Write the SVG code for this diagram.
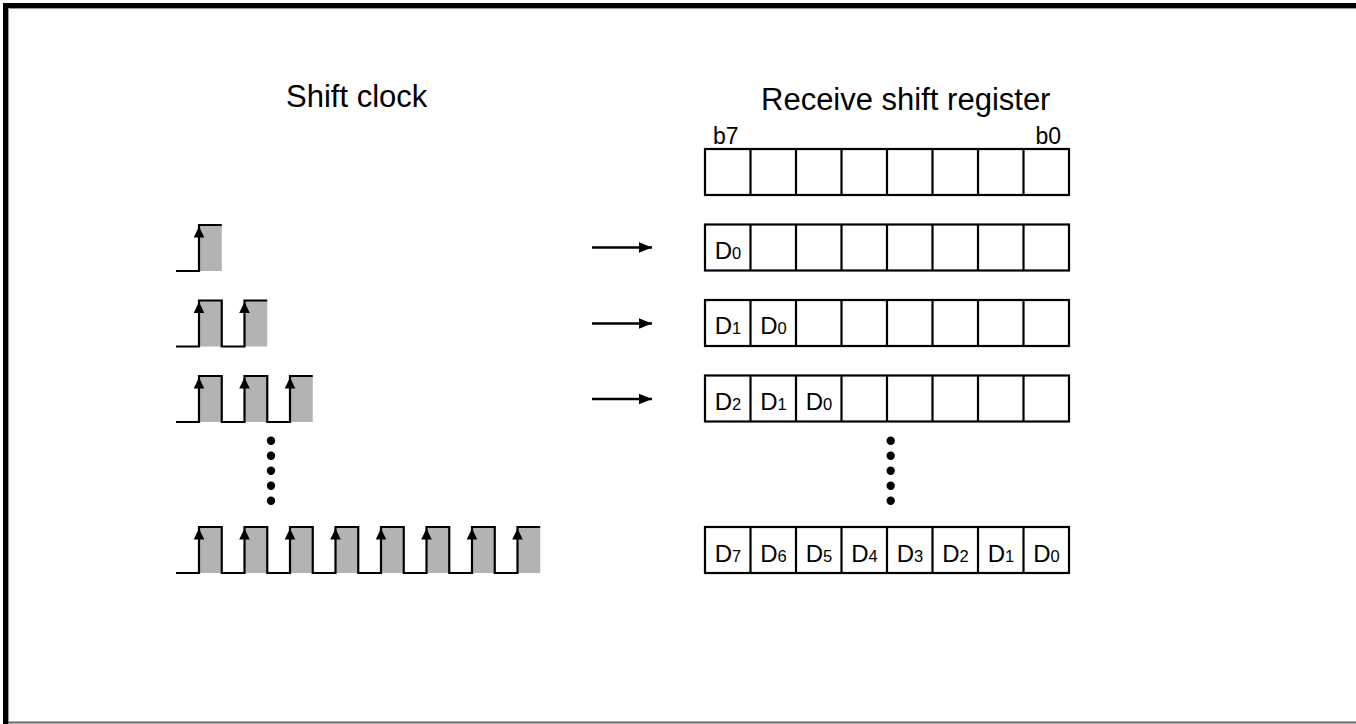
<svg xmlns="http://www.w3.org/2000/svg" xmlns:xlink="http://www.w3.org/1999/xlink" width="1356" height="724" viewBox="0 0 1356 724">
<style>
  .t { font-family: "Liberation Sans", Arial, sans-serif; fill: #000; }
  .title { font-size: 31px; }
  .bit { font-size: 23px; }
  .d { font-size: 24px; text-anchor: middle; }
  .sub { font-size: 16.5px; }
  .cell { fill: #fff; stroke: #000; stroke-width: 2.2; }
  .div { stroke: #000; stroke-width: 2.2; }
  .wave { fill: none; stroke: #000; stroke-width: 2.2; stroke-linejoin: miter; }
  .hi { fill: #b3b3b3; stroke: none; }
  .conn { stroke: #000; stroke-width: 2.4; fill: none; }
</style>
<defs>
  <path id="ah" d="M0,0 L-5.3,11 L5.3,11 Z" fill="#000"/>
  <marker id="arr" markerWidth="15" markerHeight="12" refX="13" refY="6" orient="auto" markerUnits="userSpaceOnUse">
    <path d="M0,0.8 L13,6 L0,11.2 Z" fill="#000"/>
  </marker>
  <g id="regrow">
    <rect class="cell" x="705" y="0" width="364" height="46"/>
    <path class="div" d="M750.5,0V46M796,0V46M841.5,0V46M887,0V46M932.5,0V46M978,0V46M1023.5,0V46"/>
  </g>
</defs>
<rect x="0" y="0" width="1356" height="724" fill="#fff"/>
<g id="frame">
  <path d="M5.5,724V5.5H1356" fill="none" stroke="#000" stroke-width="5"/>
  <path d="M8.5,724V8.5H1356" fill="none" stroke="#9a9a9a" stroke-width="1"/>
  <path d="M8,722.5H1356" fill="none" stroke="#666" stroke-width="2"/>
</g>
<g id="titles">
  <text class="t title" x="286" y="107">Shift clock</text>
  <text class="t title" x="761" y="110">Receive shift register</text>
</g>
<g id="bitlabels">
  <text class="t bit" x="713" y="144">b7</text>
  <text class="t bit" x="1061" y="144" text-anchor="end">b0</text>
</g>
<g id="reg0">
  <use xlink:href="#regrow" y="149"/>
</g>
<g id="reg1">
  <use xlink:href="#regrow" y="224.5"/>
  <text class="t d" x="728" y="258.5">D<tspan class="sub">0</tspan></text>
</g>
<g id="reg2">
  <use xlink:href="#regrow" y="300"/>
  <text class="t d" x="728" y="334">D<tspan class="sub">1</tspan></text>
  <text class="t d" x="773.5" y="334">D<tspan class="sub">0</tspan></text>
</g>
<g id="reg3">
  <use xlink:href="#regrow" y="375.5"/>
  <text class="t d" x="728" y="409.5">D<tspan class="sub">2</tspan></text>
  <text class="t d" x="773.5" y="409.5">D<tspan class="sub">1</tspan></text>
  <text class="t d" x="819" y="409.5">D<tspan class="sub">0</tspan></text>
</g>
<g id="reg8">
  <use xlink:href="#regrow" y="527"/>
  <text class="t d" x="728" y="561.5">D<tspan class="sub">7</tspan></text>
  <text class="t d" x="773.5" y="561.5">D<tspan class="sub">6</tspan></text>
  <text class="t d" x="819" y="561.5">D<tspan class="sub">5</tspan></text>
  <text class="t d" x="864.5" y="561.5">D<tspan class="sub">4</tspan></text>
  <text class="t d" x="910" y="561.5">D<tspan class="sub">3</tspan></text>
  <text class="t d" x="955.5" y="561.5">D<tspan class="sub">2</tspan></text>
  <text class="t d" x="1001" y="561.5">D<tspan class="sub">1</tspan></text>
  <text class="t d" x="1046.5" y="561.5">D<tspan class="sub">0</tspan></text>
</g>
<g id="clk1">
  <rect class="hi" x="199" y="225" width="22.75" height="46"/>
  <path class="wave" d="M176,271H199V225H221.75"/>
  <use xlink:href="#ah" x="199" y="226.5"/>
</g>
<g id="clk2">
  <rect class="hi" x="199" y="300.5" width="22.75" height="46"/>
  <rect class="hi" x="244.5" y="300.5" width="22.75" height="46"/>
  <path class="wave" d="M176,346.5H199V300.5H221.75V346.5H244.5V300.5H267.25"/>
  <use xlink:href="#ah" x="199" y="302"/>
  <use xlink:href="#ah" x="244.5" y="302"/>
</g>
<g id="clk3">
  <rect class="hi" x="199" y="376" width="22.75" height="46"/>
  <rect class="hi" x="244.5" y="376" width="22.75" height="46"/>
  <rect class="hi" x="290" y="376" width="22.75" height="46"/>
  <path class="wave" d="M176,422H199V376H221.75V422H244.5V376H267.25V422H290V376H312.75"/>
  <use xlink:href="#ah" x="199" y="377.5"/>
  <use xlink:href="#ah" x="244.5" y="377.5"/>
  <use xlink:href="#ah" x="290" y="377.5"/>
</g>
<g id="clk8">
  <rect class="hi" x="199" y="527" width="22.75" height="46"/>
  <rect class="hi" x="244.5" y="527" width="22.75" height="46"/>
  <rect class="hi" x="290" y="527" width="22.75" height="46"/>
  <rect class="hi" x="335.5" y="527" width="22.75" height="46"/>
  <rect class="hi" x="381" y="527" width="22.75" height="46"/>
  <rect class="hi" x="426.5" y="527" width="22.75" height="46"/>
  <rect class="hi" x="472" y="527" width="22.75" height="46"/>
  <rect class="hi" x="517.5" y="527" width="22.75" height="46"/>
  <path class="wave" d="M176,573H199V527H221.75V573H244.5V527H267.25V573H290V527H312.75V573H335.5V527H358.25V573H381V527H403.75V573H426.5V527H449.25V573H472V527H494.75V573H517.5V527H540.25"/>
  <use xlink:href="#ah" x="199" y="528.5"/>
  <use xlink:href="#ah" x="244.5" y="528.5"/>
  <use xlink:href="#ah" x="290" y="528.5"/>
  <use xlink:href="#ah" x="335.5" y="528.5"/>
  <use xlink:href="#ah" x="381" y="528.5"/>
  <use xlink:href="#ah" x="426.5" y="528.5"/>
  <use xlink:href="#ah" x="472" y="528.5"/>
  <use xlink:href="#ah" x="517.5" y="528.5"/>
</g>
<g id="ellipsis-left" fill="#000">
  <circle cx="271" cy="440.7" r="4.2"/>
  <circle cx="271" cy="455.7" r="4.2"/>
  <circle cx="271" cy="470.7" r="4.2"/>
  <circle cx="271" cy="485.7" r="4.2"/>
  <circle cx="271" cy="500.7" r="4.2"/>
</g>
<g id="ellipsis-right" fill="#000">
  <circle cx="890.7" cy="440.7" r="4.2"/>
  <circle cx="890.7" cy="455.7" r="4.2"/>
  <circle cx="890.7" cy="470.7" r="4.2"/>
  <circle cx="890.7" cy="485.7" r="4.2"/>
  <circle cx="890.7" cy="500.7" r="4.2"/>
</g>
<g id="connectors">
  <path class="conn" d="M592,247.5H652" marker-end="url(#arr)"/>
  <path class="conn" d="M592,323.5H652" marker-end="url(#arr)"/>
  <path class="conn" d="M592,399H652" marker-end="url(#arr)"/>
</g>
</svg>
